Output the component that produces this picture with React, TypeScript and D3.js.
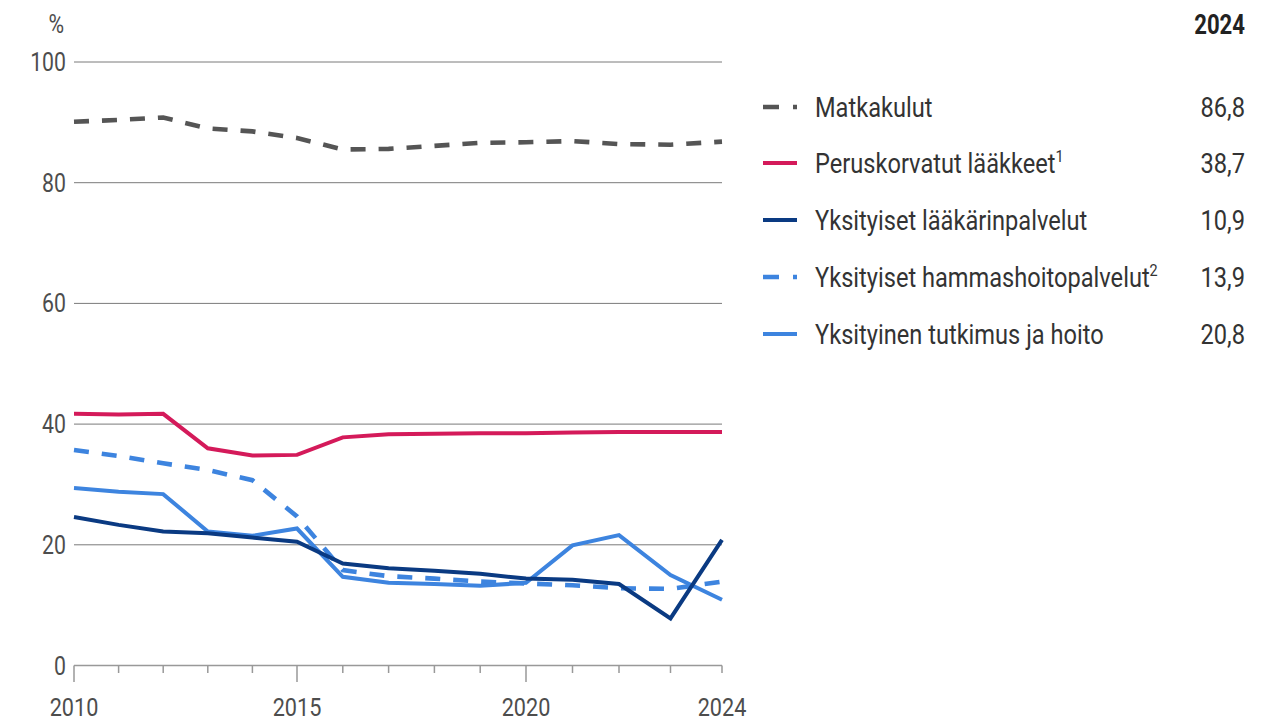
import React from "react";
import * as d3 from "d3";

const years = [2010, 2011, 2012, 2013, 2014, 2015, 2016, 2017, 2018, 2019, 2020, 2021, 2022, 2023, 2024];
const matkakulut = [90.1, 90.4, 90.8, 89.0, 88.5, 87.4, 85.5, 85.6, 86.1, 86.6, 86.7, 86.9, 86.4, 86.3, 86.8];
const peruskorvatut = [41.7, 41.6, 41.7, 36.0, 34.8, 34.9, 37.8, 38.3, 38.4, 38.5, 38.5, 38.6, 38.7, 38.7, 38.7];
const laakari = [24.6, 23.3, 22.2, 21.9, 21.2, 20.5, 16.9, 16.1, 15.7, 15.2, 14.4, 14.2, 13.5, 7.8, 20.8];
const hammas = [35.7, 34.7, 33.5, 32.4, 30.7, 24.7, 15.8, 14.8, 14.4, 13.9, 13.6, 13.3, 12.8, 12.7, 13.9];
const tutkimus = [29.4, 28.8, 28.4, 22.2, 21.5, 22.7, 14.7, 13.7, 13.5, 13.2, 13.7, 19.9, 21.6, 15.0, 10.9];

const yTicks = [0, 20, 40, 60, 80, 100];
const xLabelYears = [2010, 2015, 2020, 2024];
const majorTickYears = [2010, 2015, 2020];

const seriesNames = [
  "Matkakulut",
  "Peruskorvatut lääkkeet",
  "Yksityiset lääkärinpalvelut",
  "Yksityiset hammashoitopalvelut",
  "Yksityinen tutkimus ja hoito",
];
const seriesSup = ["", "1", "", "2", ""];
const legendValues = ["86,8", "38,7", "10,9", "13,9", "20,8"];
const seriesData = [matkakulut, peruskorvatut, laakari, hammas, tutkimus];
const seriesColors = ["#555555", "#d41a5a", "#0a3a82", "#3d84df", "#3d84df"];
const seriesDash = ["15 13", null, null, "15 13", null];
const seriesWidth = [4.6, 4, 4, 4.6, 4];
const drawOrder = [0, 1, 3, 4, 2];

const FONT = "Roboto, 'Liberation Sans', sans-serif";
const SX = 0.85;

export default function App() {
  const x = d3.scaleLinear().domain([2010, 2015, 2020, 2022, 2024]).range([74, 297, 526, 619, 722]);
  const y = d3.scaleLinear().domain([0, 100]).range([665.5, 62]);

  const line = d3
    .line<number>()
    .x((_, i) => x(years[i]))
    .y((d) => y(d));

  const legendY = [107, 163, 220, 277, 334];

  return (
    <svg width={1284} height={722} style={{ position: "absolute", left: 0, top: 0 }} fontFamily={FONT}>
      {yTicks.filter((t) => t > 0).map((t) => (
        <line key={t} x1={x(2010)} x2={x(2024)} y1={y(t)} y2={y(t)} stroke="#7a7a7a" strokeWidth={1} />
      ))}
      {yTicks.map((t) => (
        <text key={"yl" + t} transform={`translate(66,${y(t) + 9}) scale(${SX},1)`} textAnchor="end" fontSize={25} fill="#4d4d4d">
          {t}
        </text>
      ))}
      <text transform={`translate(64,33) scale(${SX},1)`} textAnchor="end" fontSize={25} fill="#4d4d4d">%</text>

      <line x1={x(2010)} x2={x(2024)} y1={y(0)} y2={y(0)} stroke="#999" strokeWidth={1.5} />
      {years.map((yr) => (
        <line
          key={"xt" + yr}
          x1={x(yr)}
          x2={x(yr)}
          y1={y(0)}
          y2={majorTickYears.includes(yr) ? 682 : 673}
          stroke="#999"
          strokeWidth={1.5}
        />
      ))}
      {xLabelYears.map((yr) => (
        <text key={"xl" + yr} transform={`translate(${x(yr)},716) scale(${SX},1)`} textAnchor="middle" fontSize={25.5} fill="#4d4d4d">
          {yr}
        </text>
      ))}

      {drawOrder.map((i) => (
        <path
          key={"s" + i}
          d={line(seriesData[i]) || ""}
          fill="none"
          stroke={seriesColors[i]}
          strokeWidth={seriesWidth[i]}
          strokeDasharray={seriesDash[i] || undefined}
          strokeLinejoin="miter"
        />
      ))}

      <text transform={`translate(1245,34) scale(0.82,1)`} textAnchor="end" fontSize={27} fontWeight="bold" fill="#222">
        2024
      </text>
      {seriesNames.map((name, i) => (
        <g key={"lg" + i}>
          <line
            x1={763}
            x2={797}
            y1={legendY[i]}
            y2={legendY[i]}
            stroke={seriesColors[i]}
            strokeWidth={seriesWidth[i]}
            strokeDasharray={seriesDash[i] ? "16 14" : undefined}
          />
          <text transform={`translate(815,${legendY[i] + 10}) scale(${SX},1)`} fontSize={27.8} fill="#333">
            {name}
            {seriesSup[i] && (
              <tspan fontSize={17} dy={-11}>
                {seriesSup[i]}
              </tspan>
            )}
          </text>
          <text transform={`translate(1245,${legendY[i] + 10}) scale(${SX},1)`} textAnchor="end" fontSize={27.8} fill="#333">
            {legendValues[i]}
          </text>
        </g>
      ))}
    </svg>
  );
}
